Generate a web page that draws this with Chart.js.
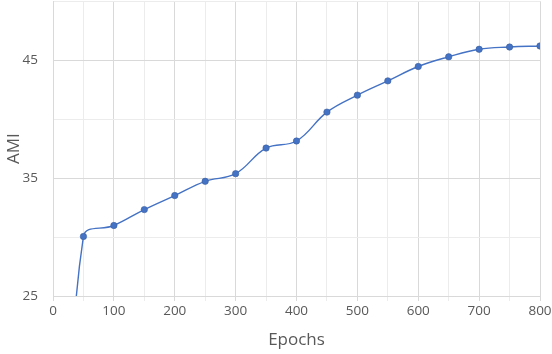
<!DOCTYPE html>
<html><head><meta charset="utf-8">
<script src="https://cdn.jsdelivr.net/npm/chart.js@4/dist/chart.umd.min.js"></script>
<style>html,body{margin:0;padding:0;background:#fff;}#wrap{width:552px;height:354px;}</style>
</head><body><div id="wrap"><canvas id="c" width="552" height="354"></canvas></div>
<script>
const epochs = [25, 50, 100, 150, 200, 250, 300, 350, 400, 450, 500, 550, 600, 650, 700, 750, 800];
const ami = [5, 30.05, 30.98, 32.33, 33.52, 34.73, 35.38, 37.55, 38.15, 40.6, 42.04, 43.25, 44.47, 45.29, 45.93, 46.12, 46.21];
const yLabelled = [25, 35, 45];
const FONT = "'Open Sans', 'Liberation Sans', sans-serif";

new Chart(document.getElementById('c'), {
  type: 'line',
  data: {
    datasets: [{
      data: epochs.map((e, i) => ({x: e, y: ami[i]})),
      borderColor: '#4472C4',
      backgroundColor: '#4472C4',
      borderWidth: 1.4,
      pointRadius: 3.2,
      pointBorderWidth: 0.6,
      pointBorderColor: '#3a5f9f',
      pointBackgroundColor: '#4472C4',
      tension: 0.4
    }]
  },
  options: {
    responsive: false,
    animation: false,
    layout: {autoPadding: false, padding: {top: 1.3, right: 0, left: 0, bottom: 0}},
    plugins: {legend: {display: false}, tooltip: {enabled: false}},
    scales: {
      x: {
        type: 'linear', min: 0, max: 800,
        ticks: {stepSize: 50, color: '#595959', font: {family: FONT, size: 13.5},
          padding: 2, maxRotation: 0, autoSkip: false,
          callback: v => (v % 100 === 0 ? String(v) : '')},
        grid: {color: c => (c.tick && c.tick.value % 100 === 0 ? '#d9d9d9' : '#ececec'),
          tickLength: 5, drawTicks: true},
        border: {color: '#d9d9d9'},
        title: {display: true, text: 'Epochs', color: '#595959', font: {family: FONT, size: 17}, padding: {top: 2}},
        afterFit: s => { s.height = 58; s.paddingRight = 12; s.paddingLeft = 0; s.paddingTop = 0; s.paddingBottom = 0; }
      },
      y: {
        min: 25, max: 50,
        ticks: {stepSize: 5, color: '#595959', font: {family: FONT, size: 13.5}, padding: 15,
          callback: v => (yLabelled.includes(v) ? String(v) : '')},
        grid: {color: c => (c.tick && yLabelled.includes(c.tick.value) ? '#d9d9d9' : '#ececec'), drawTicks: false},
        border: {color: '#d9d9d9'},
        title: {display: true, text: 'AMI', color: '#595959', font: {family: FONT, size: 17}, padding: {bottom: 0}},
        afterFit: s => { s.width = 53; s.paddingTop = 0; s.paddingBottom = 0; s.paddingLeft = 0; s.paddingRight = 0; }
      }
    }
  }
});
</script></body></html>
